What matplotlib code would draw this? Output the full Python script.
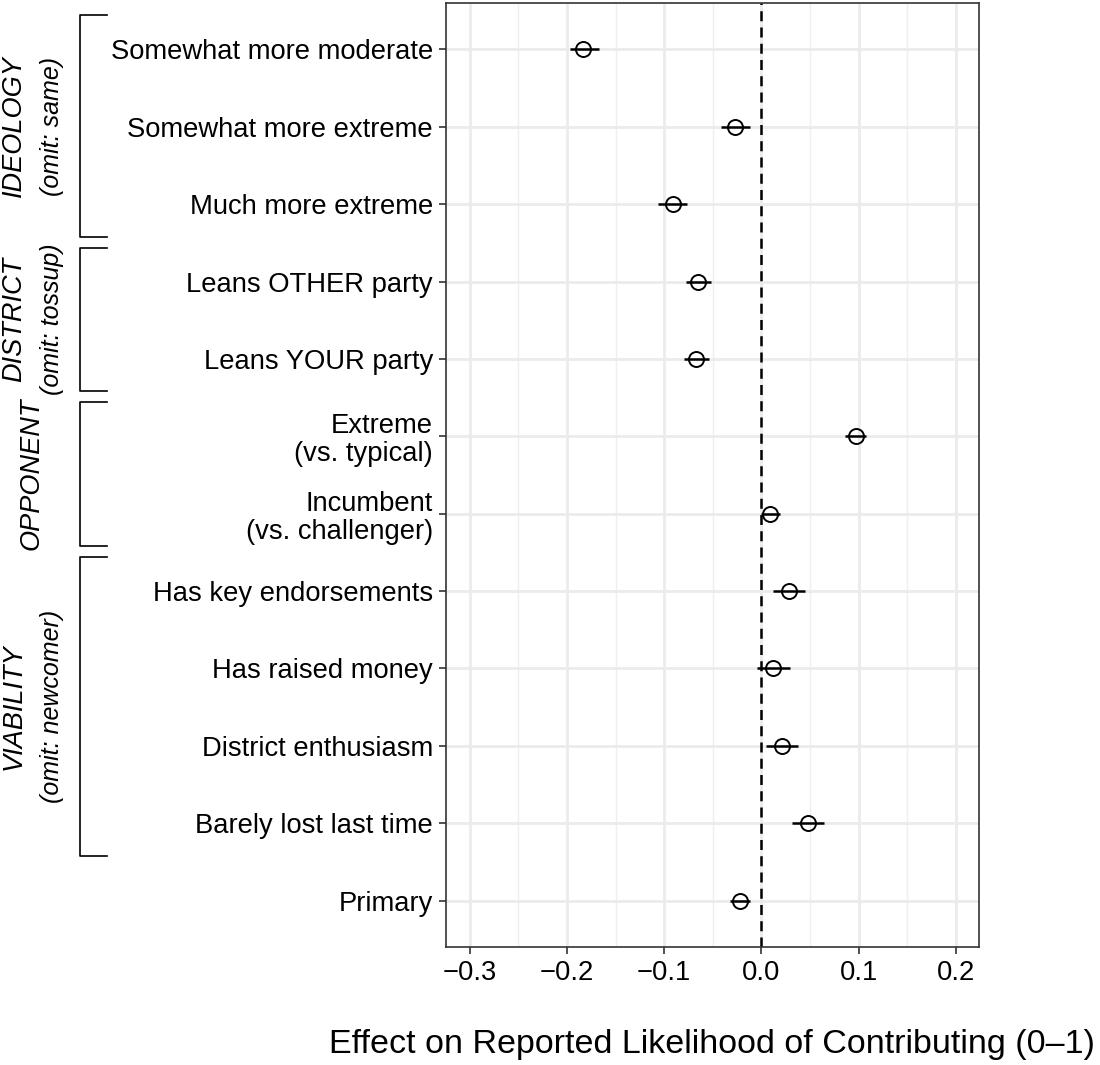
import matplotlib
matplotlib.use("Agg")
import matplotlib.pyplot as plt
from matplotlib.ticker import MultipleLocator
import numpy as np

plt.rcParams['font.family'] = ['Liberation Sans', 'DejaVu Sans']

# ---- data (top to bottom) ----
labels = ["Somewhat more moderate", "Somewhat more extreme", "Much more extreme",
          "Leans OTHER party", "Leans YOUR party",
          "Extreme\n(vs. typical)", "Incumbent\n(vs. challenger)",
          "Has key endorsements", "Has raised money", "District enthusiasm",
          "Barely lost last time", "Primary"]
estimates = [-0.183, -0.027, -0.091, -0.065, -0.067, 0.097, 0.009,
             0.028, 0.012, 0.021, 0.048, -0.022]
ci_low = [-0.197, -0.0415, -0.106, -0.078, -0.080, 0.0865, -0.0005,
          0.012, -0.004, 0.0045, 0.0315, -0.032]
ci_high = [-0.1675, -0.012, -0.0763, -0.052, -0.054, 0.108, 0.0195,
           0.045, 0.0295, 0.038, 0.065, -0.012]
x_ticks = [-0.3, -0.2, -0.1, 0.0, 0.1, 0.2]
x_label = "Effect on Reported Likelihood of Contributing (0\u20131)"
groups = ["IDEOLOGY", "DISTRICT", "OPPONENT", "VIABILITY"]
group_notes = ["(omit: same)", "(omit: tossup)", "", "(omit: newcomer)"]
group_first = [0, 3, 5, 7]
group_last = [2, 4, 6, 10]

W, H = 1100, 1065
fig = plt.figure(figsize=(W / 100, H / 100), dpi=100)
ax = fig.add_axes([445.5 / W, 1 - 947 / H, (979 - 445.5) / W, (947 - 3) / H])

n = len(labels)
ypos = np.arange(n)
ax.set_ylim(n - 1 + 0.6, -0.6)
ax.set_xlim(-0.325, 0.224)

ax.set_xticks(x_ticks)
ax.set_xticklabels([("\u2212" if t < 0 else "") + f"{abs(t):.1f}" for t in x_ticks])
ax.xaxis.set_minor_locator(MultipleLocator(0.05))
ax.set_yticks(ypos)
ax.set_yticklabels(labels, fontsize=19.7, linespacing=1.1)

ax.grid(True, which='major', color='#EBEBEB', linewidth=2.0, zorder=0)
ax.grid(True, which='minor', axis='x', color='#EFEFEF', linewidth=1.0, zorder=0)
ax.set_axisbelow(True)
ax.tick_params(axis='both', which='major', length=5, width=1.2, color='#333333',
               labelsize=19.7, labelcolor='black', pad=4)
ax.tick_params(axis='x', which='minor', length=0)
for s in ax.spines.values():
    s.set_color('#333333')
    s.set_linewidth(1.2)

ax.axvline(0, color='black', linestyle=(0, (4, 2.5)), linewidth=1.8, zorder=2)

xerr = np.array([np.array(estimates) - np.array(ci_low),
                 np.array(ci_high) - np.array(estimates)])
ax.errorbar(estimates, ypos, xerr=xerr, fmt='none', ecolor='black',
            elinewidth=1.8, capsize=0, zorder=3)
ax.plot(estimates, ypos, linestyle='none', marker='o', markersize=10.8,
        markerfacecolor='none', markeredgecolor='black', markeredgewidth=1.4, zorder=4)

ax.set_xlabel(x_label, fontsize=24.5, labelpad=31)

# ---- group brackets ----
def y_to_fig(y):
    return ax.transData.transform((0, y))[1] / H

bx0, bx1 = 80 / W, 107 / W
for g, note, a, b in zip(groups, group_notes, group_first, group_last):
    yt = y_to_fig(a - 0.44)
    yb = y_to_fig(b + 0.42)
    fig.add_artist(plt.Line2D([bx1, bx0, bx0, bx1], [yt, yt, yb, yb],
                              transform=fig.transFigure, color='black', linewidth=1.2))
    yc = (yt + yb) / 2
    if note:
        fig.text(14 / W, yc, g, rotation=90, ha='center', va='center',
                 fontsize=19.5, style='italic')
        fig.text(52 / W, yc, note, rotation=90, ha='center', va='center',
                 fontsize=18, style='italic')
    else:
        fig.text(32 / W, yc, g, rotation=90, ha='center', va='center',
                 fontsize=19.5, style='italic')

fig.savefig("out.png", dpi=100)
